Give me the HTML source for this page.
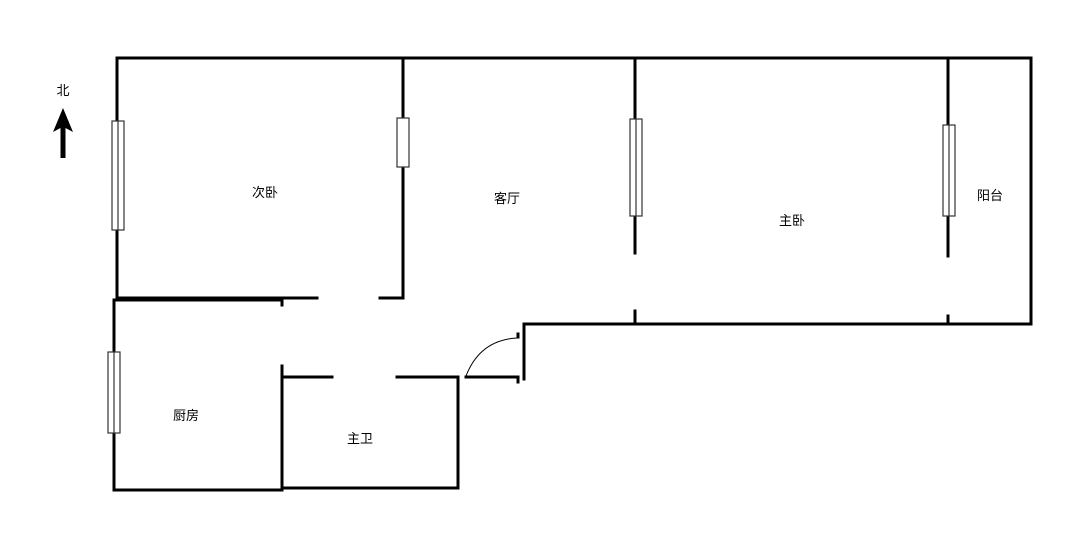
<!DOCTYPE html>
<html><head><meta charset="utf-8"><style>
html,body{margin:0;padding:0;background:#fff;width:1068px;height:560px;overflow:hidden}
text{font-family:"Liberation Sans","Noto Sans CJK SC",sans-serif;font-size:13px;fill:#000}
</style></head><body>
<svg width="1068" height="560" xmlns="http://www.w3.org/2000/svg">
<g stroke="#000" stroke-width="3" fill="none" stroke-linecap="square">
<!-- top -->
<path d="M117 58 H1031 V324 H524 V379"/>
<path d="M117 58 V298 H317"/>
<path d="M380 298 H403 V58"/>
<!-- room dividers -->
<path d="M635 58 V253 M635 311 V324"/>
<path d="M948 58 V256 M948 316 V324"/>
<!-- kitchen -->
<path d="M114 300 H280 M114 300 V490 H282"/>
<path d="M282 301 V305 M282 366 V490"/>
<!-- bath -->
<path d="M282 377 H332 M397 377 H458 V488 H282"/>
<!-- door -->
<path d="M466 377 H517 M518 334 V337 M518 377 V382"/>
</g>
<path d="M466 376 Q480 340 517 338" stroke="#000" stroke-width="1" fill="none"/>
<!-- windows -->
<g fill="#fff" stroke="#333" stroke-width="1.2">
<rect x="112" y="121" width="12" height="109"/><line x1="118" y1="121" x2="118" y2="230"/>
<rect x="397" y="118" width="12" height="49"/>
<rect x="630" y="119" width="12" height="97"/><line x1="636" y1="119" x2="636" y2="216"/>
<rect x="943" y="125" width="12" height="91"/><line x1="949" y1="125" x2="949" y2="216"/>
<rect x="108" y="352" width="12" height="81"/><line x1="114" y1="352" x2="114" y2="433"/>
</g>
<!-- north arrow -->
<path d="M63 108 L73 132 L65.5 128 V158 H60.5 V128 L53 132 Z" fill="#000"/>
<text x="63" y="95" text-anchor="middle">北</text>
<text x="265" y="197" text-anchor="middle">次卧</text>
<text x="507" y="203" text-anchor="middle">客厅</text>
<text x="792" y="225" text-anchor="middle">主卧</text>
<text x="990" y="200" text-anchor="middle">阳台</text>
<text x="186" y="420" text-anchor="middle">厨房</text>
<text x="360" y="443" text-anchor="middle">主卫</text>
</svg>
</body></html>
